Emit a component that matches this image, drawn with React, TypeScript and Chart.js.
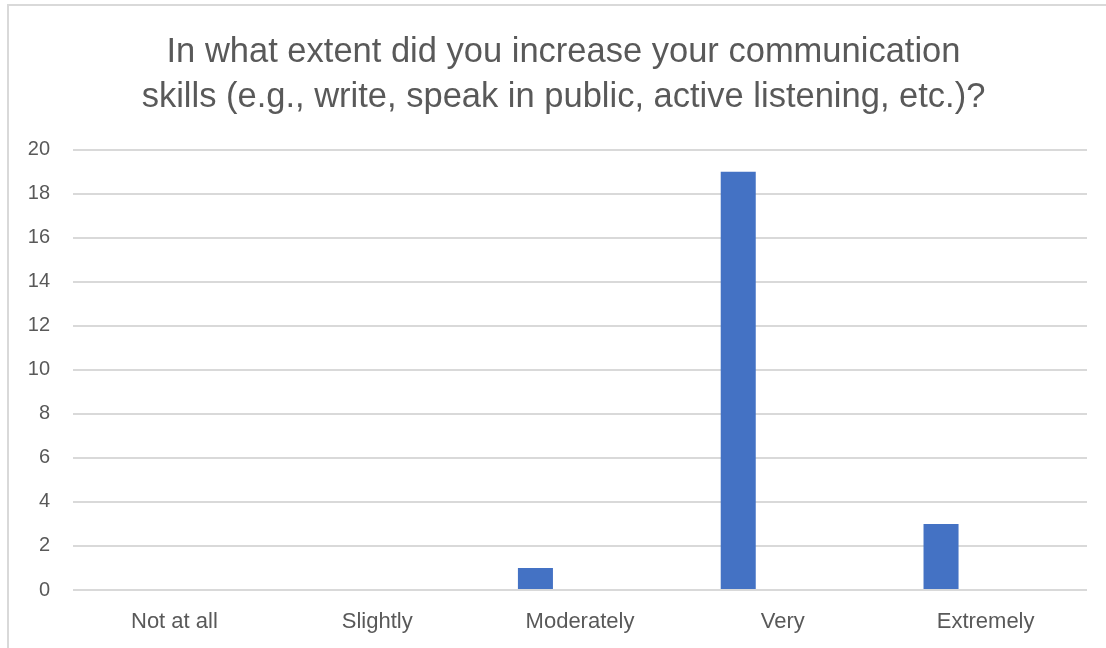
import React, { useEffect, useRef } from "react";
import { Chart, registerables } from "chart.js";

Chart.register(...registerables);

const TITLE_LINES = [
  "In what extent did you increase your communication",
  "skills (e.g., write, speak in public, active listening, etc.)?",
];
const CATEGORIES = ["Not at all", "Slightly", "Moderately", "Very", "Extremely"];
const RESPONSES = [0, 0, 1, 19, 3];
// empty second series slot (Excel layout reserves room for it)
const EMPTY_SERIES = [null, null, null, null, null];
const Y_MIN = 0;
const Y_MAX = 20;
const Y_STEP = 2;

const FONT = "'Liberation Sans', Arial, sans-serif";
const TEXT = "#595959";
const GRID = "#d9d9d9";
const BAR = "#4472C4";

const titleShift = {
  id: "titleShift",
  afterLayout(chart: any) {
    if (chart.titleBlock) {
      chart.titleBlock.left = 40;
      chart.titleBlock.right = 1087;
    }
  },
};

export default function App() {
  const ref = useRef<HTMLCanvasElement | null>(null);

  useEffect(() => {
    if (!ref.current) return;
    const chart = new Chart(ref.current, {
      type: "bar",
      data: {
        labels: CATEGORIES,
        datasets: [
          {
            label: "Responses",
            data: RESPONSES,
            backgroundColor: BAR,
            borderWidth: 0,
            categoryPercentage: 0.879,
            barPercentage: 0.393,
          },
          {
            label: "",
            data: EMPTY_SERIES as any,
            backgroundColor: "rgba(0,0,0,0)",
            borderWidth: 0,
            categoryPercentage: 0.879,
            barPercentage: 0.393,
          },
        ],
      },
      plugins: [titleShift],
      options: {
        animation: false,
        responsive: false,
        maintainAspectRatio: false,
        layout: { padding: { left: 0, right: 19, top: 0, bottom: 0 } },
        plugins: {
          legend: { display: false },
          tooltip: { enabled: false },
          title: {
            display: true,
            text: TITLE_LINES,
            color: TEXT,
            font: { family: FONT, size: 34.5, weight: "normal", lineHeight: 1.3 },
            padding: { top: 30, bottom: 30 },
          },
        },
        scales: {
          x: {
            grid: { display: false, drawTicks: false },
            border: { display: false },
            ticks: {
              color: TEXT,
              font: { family: FONT, size: 22 },
              padding: 19,
            },
            afterFit: (scale: any) => {
              scale.height = 58;
            },
          },
          y: {
            min: Y_MIN,
            max: Y_MAX,
            grid: { color: GRID, lineWidth: 2, drawTicks: false },
            border: { display: false },
            ticks: {
              stepSize: Y_STEP,
              color: TEXT,
              font: { family: FONT, size: 20 },
              padding: 23,
            },
            afterFit: (scale: any) => {
              scale.width = 73;
            },
          },
        },
      },
    });
    return () => chart.destroy();
  }, []);

  return (
    <div
      style={{
        position: "fixed",
        left: 0,
        top: 0,
        width: 1106,
        height: 648,
        overflow: "hidden",
        background: "#fff",
      }}
    >
      <div
        style={{
          position: "absolute",
          left: 7,
          top: 4,
          width: 1300,
          height: 900,
          border: "2px solid #d9d9d9",
        }}
      />
      <canvas
        ref={ref}
        width={1106}
        height={648}
        style={{ position: "absolute", left: 0, top: 0 }}
      />
    </div>
  );
}
